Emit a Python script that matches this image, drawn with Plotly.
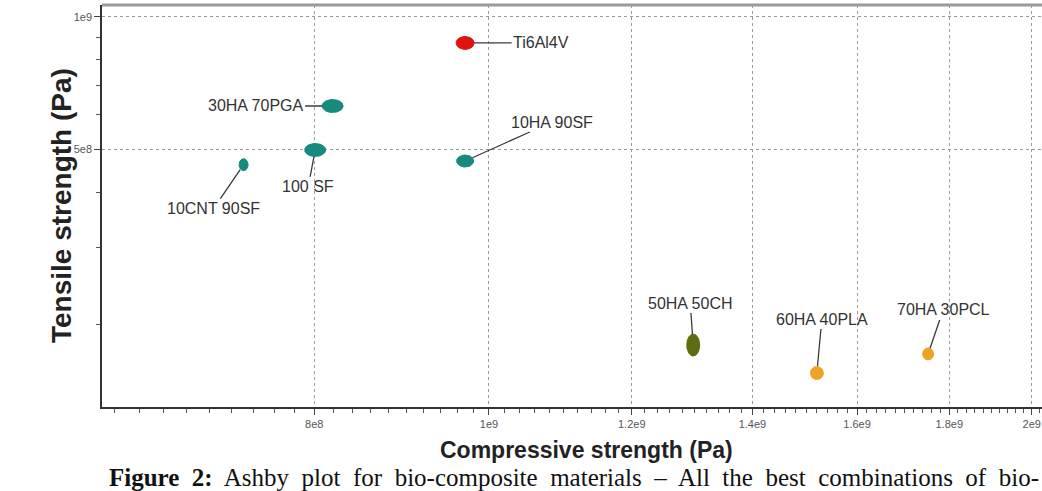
import math
import numpy as np
import plotly.graph_objects as go

# ---- data ----
materials = ["Ti6Al4V", "30HA 70PGA", "100 SF", "10CNT 90SF", "10HA 90SF",
             "50HA 50CH", "60HA 40PLA", "70HA 30PCL"]
compressive_pa = [9.70e8, 8.19e8, 8.01e8, 7.31e8, 9.70e8, 1.298e9, 1.52e9, 1.752e9]
tensile_pa = [8.73e8, 6.28e8, 4.99e8, 4.62e8, 4.71e8, 1.80e8, 1.555e8, 1.718e8]

x_tick_vals = [8e8, 1e9, 1.2e9, 1.4e9, 1.6e9, 1.8e9, 2e9]
x_tick_text = ["8e8", "1e9", "1.2e9", "1.4e9", "1.6e9", "1.8e9", "2e9"]
y_tick_vals = [5e8, 1e9]
y_tick_text = ["5e8", "1e9"]

# ---- layout / styles ----
W, H = 1042, 491
ML, MR, MT, MB = 102, 0, 5, 84
XR = [8.7854, 9.3067]
YR = [8.1146, 9.0272]
px_per_dec_x = (W - ML - MR) / (XR[1] - XR[0])
px_per_dec_y = (H - MT - MB) / (YR[1] - YR[0])

TEAL = "#168a7e"
RED = "#e0140e"
OLIVE = "#5d6c12"
ORANGE = "#f0a226"
colors = [RED, TEAL, TEAL, TEAL, TEAL, OLIVE, ORANGE, ORANGE]
ell_w = [18, 21, 21, 9, 17, 13, 13, 11]   # ellipse size in pixels
ell_h = [13, 13, 13, 12, 12, 22, 13, 12]
label_off = [(76, 0), (-77, 0), (-7, 37), (-30, 44), (87, -39), (-3, -42), (5, -54), (15, -44)]
standoffs = [9, 10, 7, 6, 8, 11, 7, 6]

fig = go.Figure()
t = np.linspace(0, 2 * np.pi, 48)
for i, name in enumerate(materials):
    lx = math.log10(compressive_pa[i]) + (ell_w[i] / 2) * np.cos(t) / px_per_dec_x
    ly = math.log10(tensile_pa[i]) + (ell_h[i] / 2) * np.sin(t) / px_per_dec_y
    fig.add_trace(go.Scatter(
        x=10 ** lx, y=10 ** ly, mode="lines", fill="toself",
        fillcolor=colors[i], line=dict(color=colors[i], width=1),
        name=name, hoverinfo="name", showlegend=False))

shapes = [dict(type="line", xref="paper", yref="paper", x0=0, x1=1, y0=1, y1=1,
               line=dict(color="#9a9a9a", width=3))]

annotations = []
label_font = dict(family="Liberation Sans, Arial", size=16, color="#333333")
for i, name in enumerate(materials):
    annotations.append(dict(
        x=math.log10(compressive_pa[i]), y=math.log10(tensile_pa[i]), xref="x", yref="y",
        text=name, showarrow=True, arrowhead=0, arrowwidth=1.3, arrowcolor="#3a3a3a",
        ax=label_off[i][0], ay=label_off[i][1], standoff=standoffs[i],
        font=label_font))

annotations.append(dict(
    text="<b>Compressive strength (Pa)</b>", xref="paper", yref="paper",
    x=(586 - ML) / (W - ML - MR), y=-(450 - (H - MB)) / (H - MT - MB),
    xanchor="center", yanchor="middle",
    showarrow=False, font=dict(family="Liberation Sans, Arial", size=23, color="#222222")))
annotations.append(dict(
    text="<b>Tensile strength (Pa)</b>", xref="paper", yref="paper",
    x=-(ML - 61) / (W - ML - MR), y=0.5, xanchor="center", yanchor="middle", textangle=-90,
    showarrow=False, font=dict(family="Liberation Sans, Arial", size=28, color="#222222")))
caption = ("<b>Figure&nbsp; 2:</b>&nbsp; Ashby&nbsp; plot&nbsp; for&nbsp; bio-composite&nbsp; materials&nbsp; –"
           "&nbsp; All&nbsp; the&nbsp; best&nbsp; combinations&nbsp; of&nbsp; bio-")
annotations.append(dict(
    text=caption, xref="paper", yref="paper",
    x=(107 - ML) / (W - ML - MR), y=-(477 - (H - MB)) / (H - MT - MB),
    xanchor="left", yanchor="middle", showarrow=False,
    font=dict(family="Liberation Serif, Times New Roman, serif", size=25, color="#111111")))

tick_font = dict(family="Liberation Sans, Arial", size=11, color="#555555")
fig.update_layout(
    width=W, height=H,
    margin=dict(l=ML, r=MR, t=MT, b=MB),
    paper_bgcolor="white", plot_bgcolor="white",
    shapes=shapes, annotations=annotations,
    xaxis=dict(
        type="log", range=XR,
        tickvals=x_tick_vals, ticktext=x_tick_text,
        ticks="outside", ticklen=6, tickcolor="#444", tickwidth=1,
        tickfont=tick_font,
        showline=True, linecolor="#333333", linewidth=1.5,
        showgrid=True, gridcolor="#9a9a9a", gridwidth=1, griddash="3px,3px",
        minor=dict(dtick="L2e7", ticks="outside", ticklen=4, tickcolor="#555", showgrid=False),
        zeroline=False, fixedrange=True),
    yaxis=dict(
        type="log", range=YR,
        tickvals=y_tick_vals, ticktext=y_tick_text,
        ticks="outside", ticklen=6, tickcolor="#444", tickwidth=1,
        tickfont=tick_font,
        showline=True, linecolor="#333333", linewidth=1.5,
        showgrid=True, gridcolor="#9a9a9a", gridwidth=1, griddash="3px,3px",
        minor=dict(dtick="D1", ticks="outside", ticklen=4, tickcolor="#555", showgrid=False),
        zeroline=False, fixedrange=True),
)

fig.write_html("out.html")
